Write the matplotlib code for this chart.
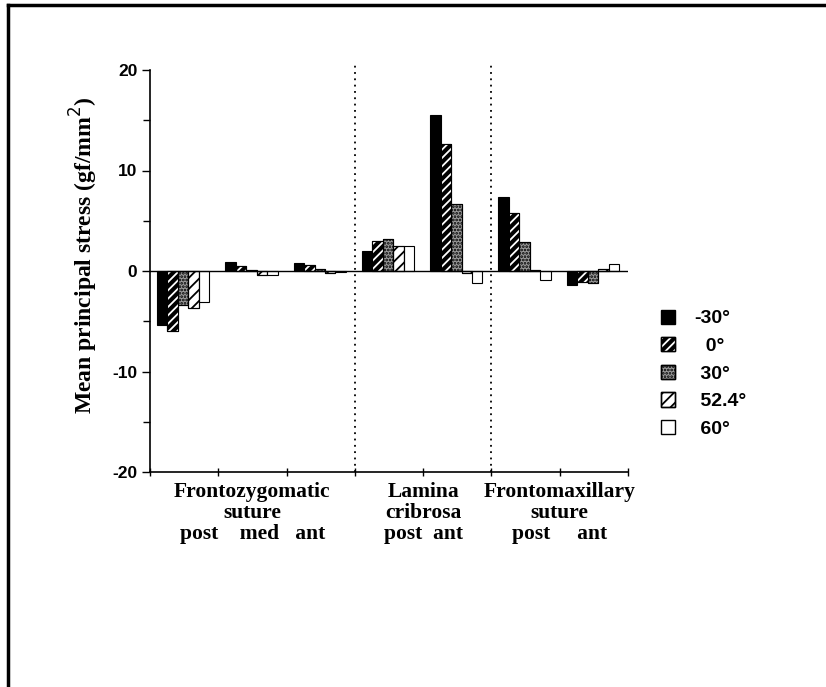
import matplotlib
matplotlib.use('Agg')
import matplotlib.pyplot as plt
from matplotlib.patches import Patch
from matplotlib.lines import Line2D
from matplotlib.legend_handler import HandlerTuple
import numpy as np

# данные
sites = ['FZ post', 'FZ med', 'FZ ant', 'LC post', 'LC ant', 'FM post', 'FM ant']
angles = ['-30°', '  0°', ' 30°', ' 52.4°', ' 60°']
s_m30 = [-5.4, 0.9, 0.8, 2.0, 15.5, 7.4, -1.4]
s_0 = [-6.0, 0.5, 0.6, 3.0, 12.6, 5.8, -1.1]
s_30 = [-3.4, 0.1, 0.2, 3.2, 6.7, 2.9, -1.2]
s_52 = [-3.7, -0.4, -0.2, 2.5, -0.2, 0.1, 0.2]
s_60 = [-3.1, -0.4, -0.1, 2.5, -1.2, -0.9, 0.7]
series = [s_m30, s_0, s_30, s_52, s_60]
group_labels = ['Frontozygomatic\nsuture\npost    med   ant',
                'Lamina\ncribrosa\npost  ant',
                'Frontomaxillary\nsuture\npost     ant']
group_centers = [1.5, 4.0, 6.0]
dividers = [3, 5]

# стили заливки
styles = [
    dict(fc='black', hatch=None, hc=None),
    dict(fc='black', hatch='////', hc='white'),
    dict(fc='#9a9a9a', hatch='.....', hc='black'),
    dict(fc='white', hatch='///', hc='black'),
    dict(fc='white', hatch=None, hc=None),
]

plt.rcParams['hatch.linewidth'] = 1.3
plt.rcParams['axes.unicode_minus'] = False
fig = plt.figure(figsize=(8.26, 6.87), dpi=100)
ax = fig.add_axes([150 / 826, 1 - 472 / 687, 478 / 826, 402 / 687])

x = np.arange(len(sites))
w = 0.153
start = 0.103
for k, vals in enumerate(series):
    st = styles[k]
    pos = x + start + w * (k + 0.5)
    ax.bar(pos, vals, w, color=st['fc'], edgecolor='black', linewidth=0.8, zorder=2)
    if st['hatch']:
        ax.bar(pos, vals, w, color='none', edgecolor=st['hc'], hatch=st['hatch'],
               linewidth=0, zorder=3)
        ax.bar(pos, vals, w, color='none', edgecolor='black', linewidth=0.8, zorder=4)

ax.axhline(0, color='black', lw=1.0, zorder=5)
for d in dividers:
    ax.axvline(d, ymin=0, ymax=1.015, color='black', lw=1.3,
               linestyle=(0, (1, 2.5)), clip_on=False, zorder=1)

ax.set_xlim(0, 7)
ax.set_ylim(-20, 20)
ax.set_yticks([-20, -10, 0, 10, 20])
ax.set_yticks([-15, -5, 5, 15], minor=True)
ax.set_xticks(range(8))
ax.set_xticklabels([])
ax.tick_params(axis='y', direction='out', length=6, width=1, labelsize=12.5, pad=3)
ax.tick_params(axis='y', which='minor', direction='out', length=5, width=1)
ax.tick_params(axis='x', direction='inout', length=6, width=1)
for lab in ax.get_yticklabels():
    lab.set_fontfamily('Liberation Sans')
    lab.set_fontweight('bold')
ax.spines['top'].set_visible(False)
ax.spines['right'].set_visible(False)
ax.spines['left'].set_linewidth(1.2)
ax.spines['bottom'].set_linewidth(1.2)

ax.set_ylabel('Mean principal stress (gf/mm$^2$)', family='Liberation Serif',
              fontweight='bold', fontsize=17)
ax.yaxis.set_label_coords(-0.105, 0.54)

for c, lab in zip(group_centers, group_labels):
    ax.text(c, -21.0, lab, ha='center', va='top', family='Liberation Serif',
            fontweight='bold', fontsize=15.5, linespacing=1.08, clip_on=False)

# легенда
handles = []
for st in styles:
    base = Patch(facecolor=st['fc'], edgecolor='black', lw=1)
    if st['hatch']:
        over = Patch(facecolor='none', edgecolor=st['hc'], hatch=st['hatch'], lw=0)
        frame = Patch(facecolor='none', edgecolor='black', lw=1)
        handles.append((base, over, frame))
    else:
        handles.append(base)
leg = fig.legend(handles, angles, loc='upper left', bbox_to_anchor=(643 / 826, 1 - 292 / 687),
                 frameon=False, prop={'family': 'Liberation Sans', 'weight': 'bold', 'size': 14},
                 handlelength=0.75, handleheight=0.75, handletextpad=1.0, labelspacing=0.5,
                 handler_map={tuple: HandlerTuple(ndivide=1, pad=0)})

# рамка
fig.add_artist(Line2D([8 / 826, 8 / 826], [0, 1 - 5 / 687], color='black', lw=2.5))
fig.add_artist(Line2D([8 / 826, 1], [1 - 5 / 687, 1 - 5 / 687], color='black', lw=2.5))

fig.savefig('out.png', dpi=100)
